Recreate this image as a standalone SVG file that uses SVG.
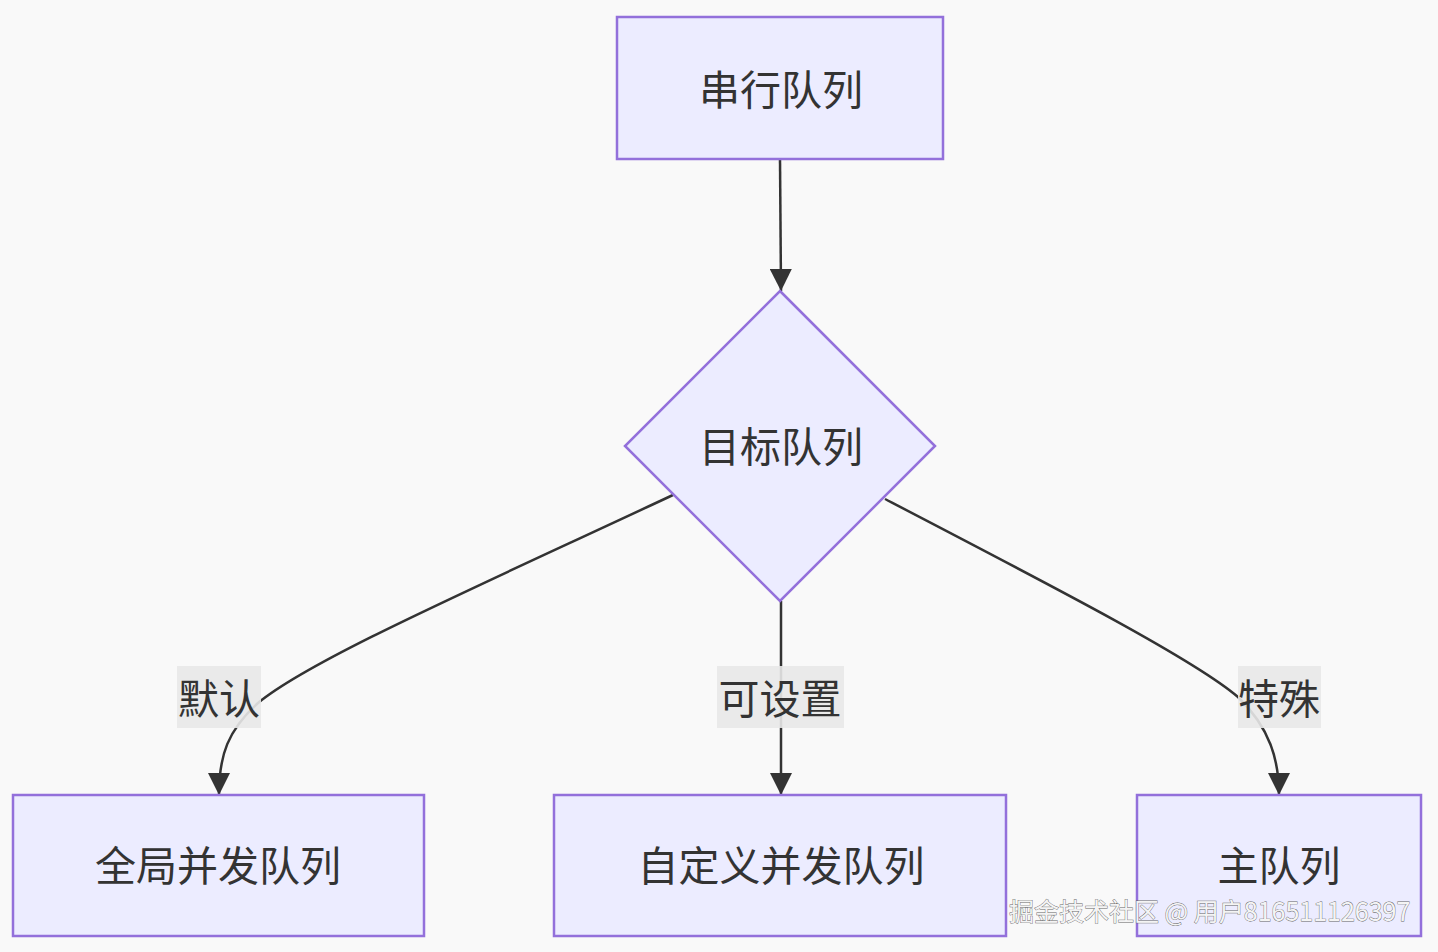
<svg xmlns="http://www.w3.org/2000/svg" width="1438" height="952" viewBox="0 0 1438 952">
<style>
.node{fill:#ececff;stroke:#9370db;stroke-width:2.5}
.lbl{font-family:"Noto Sans CJK SC","Noto Sans",sans-serif;font-size:41px;fill:#333;text-anchor:middle;dominant-baseline:central}
.edge{fill:none;stroke:#333;stroke-width:2.5}
.elbg{fill:#e8e8e8;opacity:0.9}
.wm{font-family:"Noto Sans CJK SC","Noto Sans",sans-serif;font-size:25px;fill:#f4f4f4;stroke:#666;stroke-width:0.8;paint-order:stroke}
</style>
<defs>
<marker id="ah" viewBox="0 0 20 20" refX="20" refY="10" markerWidth="22" markerHeight="22" markerUnits="userSpaceOnUse" orient="auto">
<path d="M0,0 L20,10 L0,20 z" fill="#333"/>
</marker>
</defs>
<rect width="1438" height="952" fill="#f9f9f9"/>
<g id="edges">
<path class="edge" d="M780,159 L781,291" marker-end="url(#ah)"/>
<path class="edge" d="M673,495 C470,590 310,660 258,703 C228,730 219,755 219,795" marker-end="url(#ah)"/>
<path class="edge" d="M781,601 L781,795" marker-end="url(#ah)"/>
<path class="edge" d="M885,499 C1060,590 1195,660 1238,697 C1270,728 1279,760 1279,795" marker-end="url(#ah)"/>
</g>
<g id="edge-labels">
<g id="label-default"><rect class="elbg" x="177" y="666" width="84" height="62"/><text class="lbl" x="219" y="696">默认</text></g>
<g id="label-configurable"><rect class="elbg" x="717" y="666" width="127" height="62"/><text class="lbl" x="780" y="696">可设置</text></g>
<g id="label-special"><rect class="elbg" x="1238" y="666" width="83" height="62"/><text class="lbl" x="1279" y="696">特殊</text></g>
</g>
<g id="node-serial"><rect class="node" x="617" y="17" width="326" height="142"/><text class="lbl" x="781" y="87">串行队列</text></g>
<g id="node-target"><polygon class="node" points="780,291 935,446 780,601 625,446"/><text class="lbl" x="781" y="444">目标队列</text></g>
<g id="node-global"><rect class="node" x="13" y="795" width="411" height="141"/><text class="lbl" x="218" y="863">全局并发队列</text></g>
<g id="node-custom"><rect class="node" x="554" y="795" width="452" height="141"/><text class="lbl" x="781" y="863">自定义并发队列</text></g>
<g id="node-main"><rect class="node" x="1137" y="795" width="284" height="141"/><text class="lbl" x="1279" y="863">主队列</text></g>
<text class="wm" x="1009" y="921">掘金技术社区 @ 用户816511126397</text>
</svg>
